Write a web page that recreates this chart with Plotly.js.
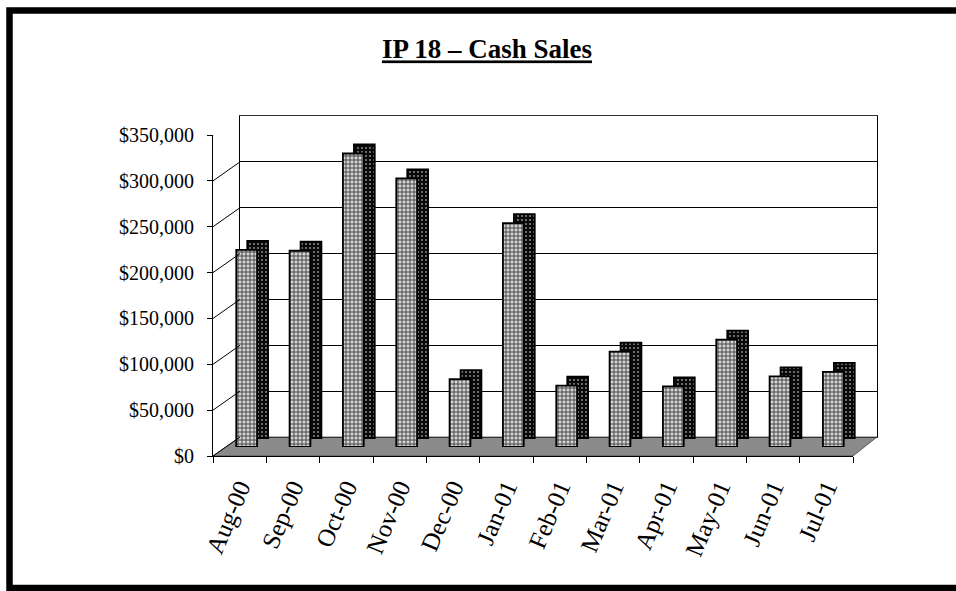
<!DOCTYPE html>
<html>
<head>
<meta charset="utf-8">
<script src="https://cdn.plot.ly/plotly-3.0.1.min.js"></script>
<style>
html,body{margin:0;padding:0;background:#fff;}
#chart{width:956px;height:591px;}
</style>
</head>
<body>
<div id="chart"></div>
<script>
// ---- data ----
const months = ["Aug-00","Sep-00","Oct-00","Nov-00","Dec-00","Jan-01","Feb-01","Mar-01","Apr-01","May-01","Jun-01","Jul-01"];
const cashSales = [215000, 214000, 320000, 293000, 74000, 244000, 67000, 104000, 66000, 117000, 77000, 82000];
const yTicks = [0, 50000, 100000, 150000, 200000, 250000, 300000, 350000];
const titleText = "IP 18 \u2013 Cash Sales";

// ---- layout geometry (pixels in a 956x591 page) ----
const W = 956, H = 591;
const px = v => v / W;
const py = v => 1 - v / H;
const yMax = 350000;
const plotH = 321;                         // px for the full value range
const depthY = 19 / plotH * yMax;          // wall depth, in value units
const capY = 9 / plotH * yMax;             // bar top depth, in value units
const font = "Liberation Serif, Times New Roman, serif";

const frontBar = {
  type: "bar", x: months, y: cashSales, xaxis: "x3", yaxis: "y3",
  width: 0.39,
  marker: {
    color: "#aaaaaa",
    line: {color: "#000", width: 1.8},
    pattern: {shape: "+", fgcolor: "#3a3a3a", bgcolor: "#d4d4d4", size: 4, solidity: 0.4}
  },
  hoverinfo: "x+y", showlegend: false
};
const sideBar = {
  type: "bar", x: months, y: cashSales, base: cashSales.map(() => capY),
  xaxis: "x3", yaxis: "y3",
  width: 0.39, offset: -0.195 + 11 / 53.33,
  marker: {
    color: "#1a1a1a",
    line: {color: "#000", width: 1.8},
    pattern: {shape: ".", fgcolor: "#8a8a8a", bgcolor: "#0a0a0a", size: 4, solidity: 0.2}
  },
  hoverinfo: "skip", showlegend: false
};
// invisible traces so the front and back axes are drawn
const frontAxisTrace = {type: "scatter", x: months, y: cashSales, xaxis: "x", yaxis: "y",
  mode: "markers", marker: {opacity: 0}, hoverinfo: "skip", showlegend: false};
const backAxisTrace = {type: "scatter", x: months, y: cashSales, xaxis: "x2", yaxis: "y2",
  mode: "markers", marker: {opacity: 0}, hoverinfo: "skip", showlegend: false};

const shapes = [];
// floor
shapes.push({type: "path", xref: "paper", yref: "paper", layer: "below",
  path: `M ${px(213)} ${py(456)} L ${px(853)} ${py(456)} L ${px(877)} ${py(437)} L ${px(240)} ${py(437)} Z`,
  fillcolor: "#8a8a8a", line: {color: "#444", width: 0.8}});
// depth lines from the front value axis to the back wall
yTicks.forEach(v => {
  shapes.push({type: "line", xref: "paper", yref: "y",
    x0: px(213), x1: px(240), y0: v, y1: v + depthY,
    line: {color: "#000", width: 1}});
});
// page frame
shapes.push({type: "rect", xref: "paper", yref: "paper",
  x0: px(9.5), x1: 1.05, y0: py(588), y1: py(10.5),
  line: {color: "#000", width: 6.5}, fillcolor: "rgba(0,0,0,0)"});

const layout = {
  width: W, height: H,
  margin: {l: 0, r: 0, t: 0, b: 0},
  paper_bgcolor: "#fff", plot_bgcolor: "rgba(0,0,0,0)",
  barmode: "overlay",
  showlegend: false,
  title: {
    text: "<b>" + titleText + "</b>",
    font: {family: font, size: 27, color: "#000", lineposition: "under"},
    x: 487 / W, xanchor: "center", xref: "paper",
    y: py(49), yanchor: "middle", yref: "container"
  },
  // front plane: value labels and month labels
  xaxis: {
    domain: [px(213), px(853)], anchor: "y",
    type: "category", categoryorder: "array", categoryarray: months,
    range: [-0.5, 11.5], tickson: "boundaries",
    ticks: "outside", ticklen: 6, tickcolor: "#000", tickwidth: 1,
    ticklabelstandoff: 6,
    showline: true, linecolor: "#000", linewidth: 1,
    showgrid: false, zeroline: false,
    tickangle: -67,
    tickfont: {family: font, size: 25, color: "#000"}
  },
  yaxis: {
    domain: [py(456), py(135)], anchor: "x",
    range: [0, yMax], tickvals: yTicks, tickformat: "$,.0f",
    ticks: "outside", ticklen: 5, tickcolor: "#000", tickwidth: 1,
    ticklabelstandoff: 9,
    showline: true, linecolor: "#000", linewidth: 1,
    showgrid: false, zeroline: false,
    tickfont: {family: font, size: 20, color: "#000"}
  },
  // back wall: gridlines
  xaxis2: {
    domain: [px(240), px(877)], anchor: "y2",
    type: "category", categoryorder: "array", categoryarray: months,
    range: [-0.5, 11.5],
    showticklabels: false, ticks: "", showgrid: false, zeroline: false,
    showline: true, mirror: true, linecolor: "#333", linewidth: 1
  },
  yaxis2: {
    domain: [py(437), py(116)], anchor: "x2",
    range: [0, yMax], tickvals: yTicks,
    showticklabels: false, ticks: "",
    showgrid: true, gridcolor: "#000", gridwidth: 1, zeroline: false,
    showline: true, mirror: true, linecolor: "#000", linewidth: 1
  },
  // mid-depth plane: the columns
  xaxis3: {
    domain: [px(220), px(860)], anchor: "y3",
    type: "category", categoryorder: "array", categoryarray: months,
    range: [-0.5, 11.5], visible: false
  },
  yaxis3: {
    domain: [py(447), py(126)], anchor: "x3",
    range: [0, yMax], visible: false
  },
  shapes: shapes
};

Plotly.newPlot("chart", [frontAxisTrace, backAxisTrace, sideBar, frontBar], layout,
  {staticPlot: true, displayModeBar: false});
</script>
</body>
</html>
